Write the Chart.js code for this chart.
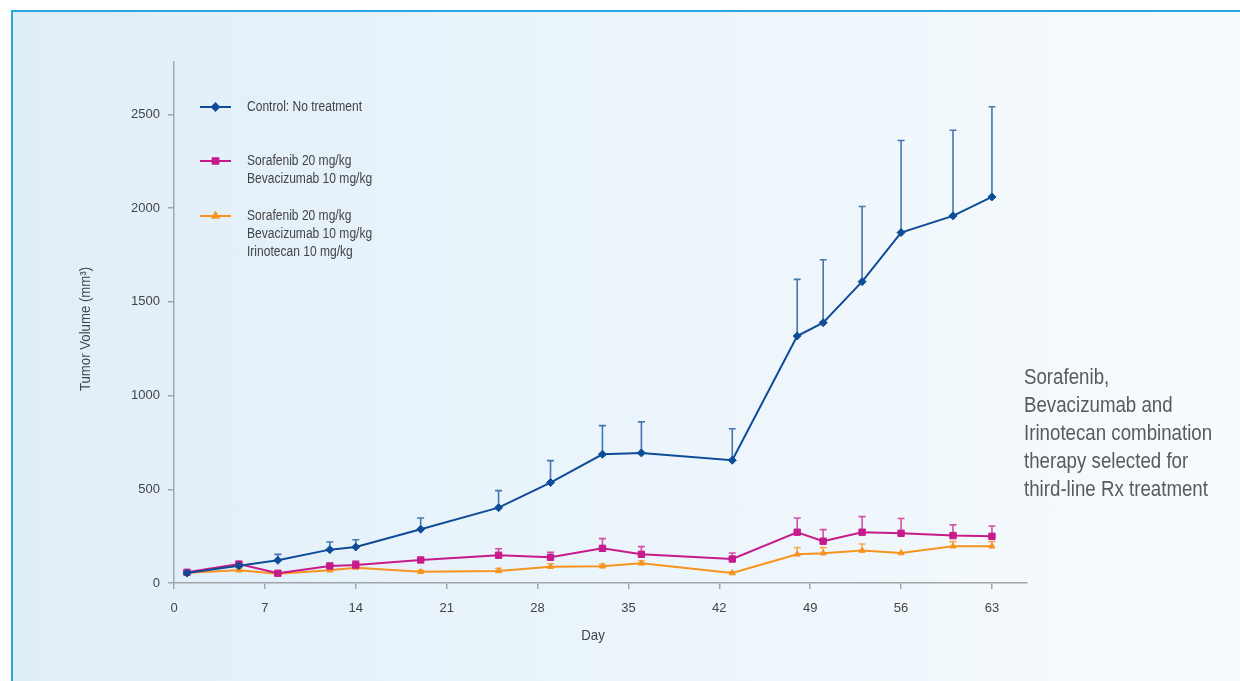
<!DOCTYPE html>
<html>
<head>
<meta charset="utf-8">
<script src="https://cdn.jsdelivr.net/npm/chart.js@4.4.1/dist/chart.umd.min.js"></script>
<style>
  html, body { margin: 0; padding: 0; background: #fff; width: 1240px; height: 681px; overflow: hidden; }
  #frame {
    position: absolute; left: 11px; top: 10px; right: 0; bottom: 0;
    border-top: 2px solid #2ba8e0; border-left: 2px solid #2ba8e0;
    background: linear-gradient(to right, #e0eef8 0%, #eaf4fb 45%, #f7fbfd 100%);
  }
  #chart { position: absolute; left: 0; top: 0; }
  #note {
    position: absolute; left: 1024px; top: 363px;
    font-family: "Liberation Sans", Arial, sans-serif;
    font-size: 22px; line-height: 28px; color: #5a5a5a;
    white-space: nowrap;
    transform: scaleX(0.85); transform-origin: 0 0;
  }
</style>
</head>
<body>
<div id="frame"></div>
<canvas id="chart" width="1240" height="681"></canvas>
<div id="note">Sorafenib,<br>Bevacizumab and<br>Irinotecan combination<br>therapy selected for<br>third-line Rx treatment</div>
<script>
// 데이터
const days = [1, 5, 8, 12, 14, 19, 25, 29, 33, 36, 43, 48, 50, 53, 56, 60, 63];
const xTicks = [0, 7, 14, 21, 28, 35, 42, 49, 56, 63];
const yTicks = [0, 500, 1000, 1500, 2000, 2500];

const controlMean = [53, 92, 121, 178, 192, 287, 402, 536, 687, 694, 655, 1318, 1389, 1608, 1870, 1959, 2060];
const controlErr  = [8, 5, 32, 41, 39, 60, 91, 117, 153, 166, 168, 302, 336, 401, 491, 457, 481];

const sbMean = [57, 101, 52, 91, 96, 123, 148, 137, 185, 153, 128, 271, 223, 271, 265, 253, 249];
const sbErr  = [5, 8, 5, 10, 21, 8, 35, 27, 52, 41, 32, 76, 62, 83, 79, 57, 55];

const sbiMean = [55, 68, 50, 68, 82, 60, 64, 87, 89, 105, 53, 153, 159, 173, 160, 196, 196];
const sbiErr  = [3, 10, 3, 5, 6, 8, 14, 16, 12, 14, 6, 36, 30, 35, 0, 25, 25];

const legendLines = [
    ["Control: No treatment"],
    ["Sorafenib 20 mg/kg", "Bevacizumab 10 mg/kg"],
    ["Sorafenib 20 mg/kg", "Bevacizumab 10 mg/kg", "Irinotecan 10 mg/kg"]
];

const BLUE = "#0e4c98";
const MAGENTA = "#c71a8b";
const ORANGE = "#f7931e";
const AXIS = "#a3a6a9";
const TEXT = "#444";
const FONT = '"Liberation Sans", Arial, sans-serif';

function toPoints(means) {
    return days.map((d, i) => ({ x: d, y: means[i] }));
}

// 좁은 글씨 (condensed 흉내)
function narrowText(c, text, x, y, sx) {
    c.save();
    c.translate(x, y);
    c.scale(sx, 1);
    c.fillText(text, 0, 0);
    c.restore();
}

// 에러바 (위쪽만) 그리기
const errorBars = {
    id: "errorBars",
    beforeDatasetsDraw(chart) {
        const c = chart.ctx;
        const xs = chart.scales.x, ys = chart.scales.y;
        const errs = [controlErr, sbErr, sbiErr];
        chart.data.datasets.forEach((ds, k) => {
            c.save();
            c.strokeStyle = ds.borderColor;
            c.globalAlpha = 0.75;
            c.lineWidth = 1.6;
            days.forEach((d, i) => {
                const e = errs[k][i];
                if (!e) return;
                const px = xs.getPixelForValue(d);
                const py = ys.getPixelForValue(ds.data[i].y);
                const pt = ys.getPixelForValue(ds.data[i].y + e);
                c.beginPath();
                c.moveTo(px, py);
                c.lineTo(px, pt);
                c.moveTo(px - 3.5, pt);
                c.lineTo(px + 3.5, pt);
                c.stroke();
            });
            c.restore();
        });
    }
};

// 범례 + 축 제목
const decorations = {
    id: "decorations",
    afterDraw(chart) {
        const c = chart.ctx;
        c.save();
        // legend
        const rows = [107, 161, 216];
        const styles = ["rectRot", "rect", "triangle"];
        const radii = [3.5, 4, 3.5];
        chart.data.datasets.forEach((ds, k) => {
            const y = rows[k];
            c.strokeStyle = ds.borderColor;
            c.lineWidth = 2;
            c.beginPath();
            c.moveTo(200, y);
            c.lineTo(231, y);
            c.stroke();
            c.fillStyle = ds.borderColor;
            Chart.helpers.drawPoint(c, { pointStyle: styles[k], radius: radii[k], borderWidth: 1 }, 215.5, y);
            c.fill();
            c.fillStyle = TEXT;
            c.font = "14px " + FONT;
            c.textBaseline = "middle";
            c.textAlign = "left";
            legendLines[k].forEach((t, j) => narrowText(c, t, 247, y + j * 18, 0.86));
        });
        // x title
        c.fillStyle = TEXT;
        c.font = "15px " + FONT;
        c.textAlign = "center";
        c.textBaseline = "middle";
        narrowText(c, "Day", 593, 636, 0.88);
        // y title
        c.translate(86, 329);
        c.rotate(-Math.PI / 2);
        narrowText(c, "Tumor Volume (mm³)", 0, 0, 0.88);
        c.restore();
    }
};

const ctx = document.getElementById("chart").getContext("2d");
const chart = new Chart(ctx, {
    type: "line",
    data: {
        datasets: [
            {
                label: legendLines[0].join(" "),
                data: toPoints(controlMean),
                borderColor: BLUE, backgroundColor: BLUE,
                borderWidth: 2, pointStyle: "rectRot", pointRadius: 4, pointBorderWidth: 1
            },
            {
                label: legendLines[1].join(" "),
                data: toPoints(sbMean),
                borderColor: MAGENTA, backgroundColor: MAGENTA,
                borderWidth: 2, pointStyle: "rect", pointRadius: 4.5, pointBorderWidth: 1
            },
            {
                label: legendLines[2].join(" "),
                data: toPoints(sbiMean),
                borderColor: ORANGE, backgroundColor: ORANGE,
                borderWidth: 2, pointStyle: "triangle", pointRadius: 3.5, pointBorderWidth: 1
            }
        ]
    },
    options: {
        responsive: false,
        animation: false,
        layout: { padding: { left: 0, top: 62, right: 213, bottom: 0 } },
        plugins: { legend: { display: false }, tooltip: { enabled: false } },
        scales: {
            x: {
                type: "linear", min: 0, max: 65.7,
                afterBuildTicks: s => { s.ticks = xTicks.map(v => ({ value: v })); },
                afterFit: s => { s.height = 98; },
                ticks: { padding: 12, color: TEXT, font: { family: FONT, size: 13 }, callback: v => String(v) },
                grid: { drawOnChartArea: false, tickLength: 6, color: AXIS, lineWidth: 1.5 },
                border: { color: AXIS, width: 1.5 }
            },
            y: {
                type: "linear", min: 0, max: 2780,
                afterBuildTicks: s => { s.ticks = yTicks.map(v => ({ value: v })); },
                afterFit: s => { s.width = 174; },
                ticks: { padding: 8, color: TEXT, font: { family: FONT, size: 13 }, callback: v => String(v) },
                grid: { drawOnChartArea: false, tickLength: 6, color: AXIS, lineWidth: 1.5 },
                border: { color: AXIS, width: 1.5 }
            }
        }
    },
    plugins: [errorBars, decorations]
});
</script>
</body>
</html>
